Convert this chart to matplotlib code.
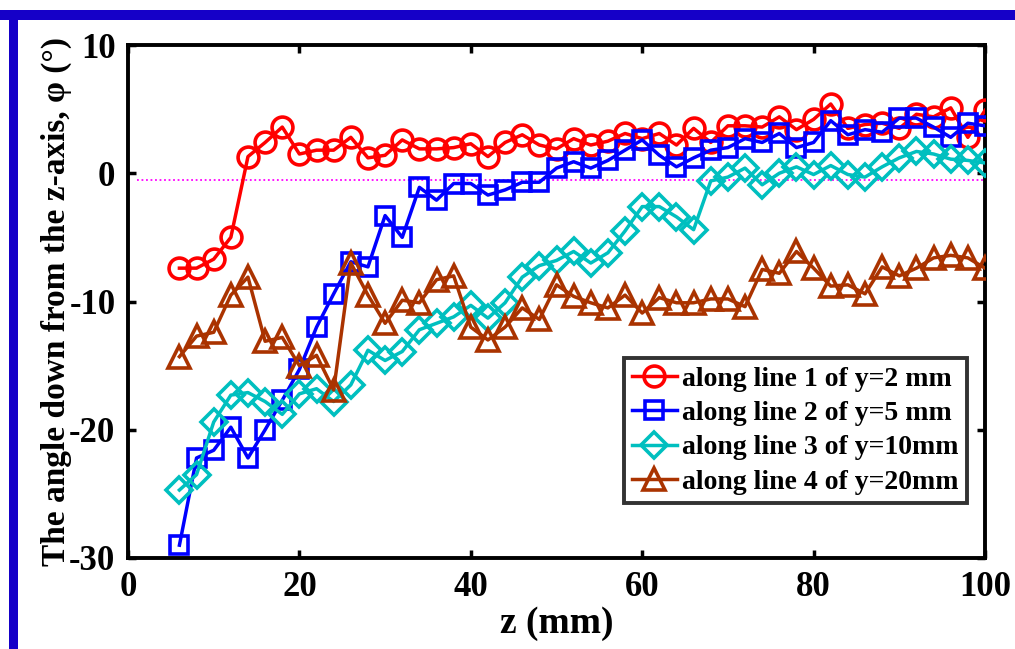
import matplotlib
matplotlib.use("Agg")
import matplotlib.pyplot as plt
from matplotlib.patches import Rectangle

z = list(range(6, 101, 2))

line1 = [-7.4, -7.4, -6.7, -5.0, 1.3, 2.4, 3.6, 1.5, 1.8, 1.8, 2.8, 1.2, 1.4, 2.6, 1.9, 1.9,
         2.0, 2.3, 1.3, 2.4, 3.0, 2.2, 1.9, 2.7, 2.2, 2.5, 3.1, 2.7, 3.1, 2.2, 3.5, 2.4,
         3.7, 3.7, 3.6, 4.4, 3.4, 4.2, 5.4, 3.5, 3.8, 3.9, 3.5, 4.6, 4.4, 5.1, 2.8, 4.9]
line2 = [-29.0, -22.2, -21.6, -19.8, -22.2, -20.0, -17.7, -15.3, -12.0, -9.4, -6.9, -7.3,
         -3.3, -5.0, -1.1, -2.1, -0.8, -0.8, -1.7, -1.3, -0.7, -0.7, 0.4, 0.9, 0.4, 1.0,
         1.8, 2.6, 1.4, 0.5, 1.2, 1.8, 2.0, 2.7, 2.4, 3.1, 2.0, 2.4, 4.1, 3.0, 3.4, 3.2,
         4.3, 4.3, 3.6, 2.8, 3.9, 3.7]
line3 = [-24.7, -23.5, -19.4, -17.3, -17.1, -17.8, -18.8, -17.2, -16.8, -17.8, -16.5, -13.8,
         -14.6, -13.9, -12.2, -11.7, -11.2, -10.3, -11.3, -10.1, -8.1, -7.2, -6.8, -6.1,
         -7.0, -6.2, -4.5, -2.6, -2.6, -3.4, -4.4, -0.6, -0.3, 0.4, -0.9, 0.0, 0.5, -0.1,
         0.6, -0.1, -0.3, 0.5, 1.2, 1.7, 1.5, 1.1, 1.0, 0.8]
line4 = [-14.3, -12.7, -12.4, -9.5, -8.1, -13.1, -12.8, -15.0, -14.2, -16.9, -7.0, -9.5,
         -11.7, -9.9, -10.1, -8.3, -8.0, -12.0, -13.0, -12.0, -10.5, -11.4, -8.7, -9.6,
         -10.1, -10.5, -9.5, -10.9, -9.7, -10.1, -10.1, -9.8, -9.8, -10.4, -7.5, -7.8,
         -6.1, -7.4, -8.8, -8.7, -9.4, -7.3, -8.0, -7.4, -6.6, -6.4, -6.6, -7.4]

labels = ["along line 1 of y=2 mm", "along line 2 of y=5 mm",
          "along line 3 of y=10mm", "along line 4 of y=20mm"]
ref_z = [1, 100]
ref_phi = [-0.5, -0.5]

xticks = [0, 20, 40, 60, 80, 100]
yticks = [-30, -20, -10, 0, 10]

plt.rcParams['font.family'] = ['Liberation Serif', 'DejaVu Serif']
plt.rcParams['font.weight'] = 'bold'
plt.rcParams['axes.unicode_minus'] = False

fig = plt.figure(figsize=(10.15, 6.49), dpi=100)
ax = fig.add_axes([128/1015, (649-558)/649, 857/1015, (558-45)/649])

ax.plot(ref_z, ref_phi, color='#ff00ff', linestyle=(0, (1, 1.5)), linewidth=1.3, zorder=1)

styles = [
    dict(color='#ff0000', marker='o', markersize=15),
    dict(color='#0000ff', marker='s', markersize=13),
    dict(color='#00bfbf', marker='D', markersize=13),
    dict(color='#aa3300', marker='^', markersize=16),
]
for data, lab, st in zip([line1, line2, line3, line4], labels, styles):
    ax.plot(z, data, color=st['color'], marker=st['marker'], markersize=st['markersize'],
            markerfacecolor='none', markeredgecolor=st['color'], markeredgewidth=2.6,
            linewidth=2.5, label=lab, zorder=3)

ax.set_xlim(0, 100)
ax.set_ylim(-30, 10)
ax.set_xticks(xticks)
ax.set_yticks(yticks)
ax.tick_params(direction='in', length=6, width=2.5, top=True, right=True,
               labelsize=25)
ax.tick_params(axis='x', pad=9)
ax.tick_params(axis='y', pad=9)
for lab in ax.get_xticklabels() + ax.get_yticklabels():
    lab.set_fontweight('bold')
for sp in ax.spines.values():
    sp.set_linewidth(2.8)

ax.set_xlabel("z (mm)", fontsize=27, fontweight='bold', labelpad=2)
ax.set_ylabel("The angle down from the z-axis, φ (°)", fontsize=24, fontweight='bold', labelpad=-2)

leg = ax.legend(loc='lower right', bbox_to_anchor=(0.979, 0.107),
                prop={'weight': 'bold', 'size': 20}, frameon=True, fancybox=False,
                edgecolor='black', handlelength=1.6, handletextpad=0.2,
                labelspacing=0.32, borderpad=0.3, borderaxespad=0, markerscale=1.0)
leg.get_frame().set_linewidth(2.8)

blue = '#1500c8'
fig.patches.append(Rectangle((0, (649-20)/649), 1, 10/649, transform=fig.transFigure,
                             facecolor=blue, edgecolor='none', zorder=0))
fig.patches.append(Rectangle((9/1015, 0), 9/1015, (649-11)/649, transform=fig.transFigure,
                             facecolor=blue, edgecolor='none', zorder=0))

fig.savefig("out.png", dpi=100)
